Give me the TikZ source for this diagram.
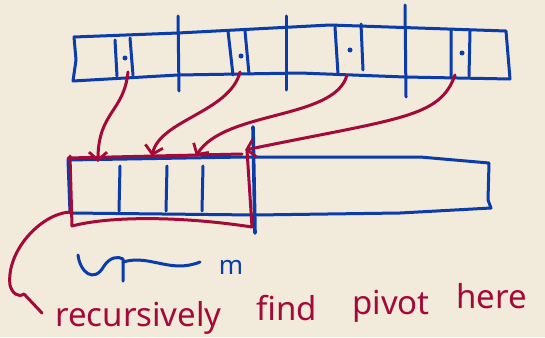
\documentclass[tikz,border=0pt]{standalone}
\usepackage{fontspec}
\setmainfont{Noto Sans}
\usepackage{tikz}
\usetikzlibrary{arrows.meta}
\definecolor{Paper}{HTML}{F2EADB}
\definecolor{Ink}{HTML}{0A3CAA}
\definecolor{Marker}{HTML}{A30A3A}

\begin{document}
\begin{tikzpicture}[
    x=1pt,y=-1pt,
    blueink/.style={draw=Ink,line width=3pt,line cap=round,line join=round},
    redink/.style={draw=Marker,line width=3pt,line cap=round,line join=round},
    pointer/.style={redink,-{Straight Barb[length=8pt,width=18pt,line width=2.8pt]}},
    marked/.style={fill=Ink,circle,inner sep=0pt,minimum size=5pt},
    word/.style={text=Marker,anchor=base west,inner sep=0pt,font=\fontsize{33}{33}\selectfont}
]
\fill[Paper] (0,0) rectangle (545,337);
\useasboundingbox (0,0) rectangle (545,337);

% upper array
\draw[blueink] (74,37) -- (178,33) -- (330,25) -- (506,31) -- (510,79)
  -- (405,77) -- (300,73) -- (178,75) -- (73,81) -- (76,60) -- cycle;
\draw[blueink] (178,16) -- (179,91);
\draw[blueink] (286,16) -- (286,90);
\draw[blueink] (405,5) -- (406,97);
\draw[blueink] (115,40) -- (117,76) (130,38) -- (133,75);
\draw[blueink] (228,31) -- (233,75) (245,31) -- (249,74);
\draw[blueink] (335,27) -- (338,74) (361,24) -- (363,70);
\draw[blueink] (451,30) -- (451,78) (470,31) -- (469,76);
\node[marked] (p1) at (125,58) {};
\node[marked] (p2) at (241,56) {};
\node[marked] (p3) at (350,50) {};
\node[marked] (p4) at (462,53) {};

% lower array
\draw[blueink] (68,160) -- (245,157) -- (420,157) -- (489,163) -- (488,200)
  -- (491,208) -- (400,213) -- (255,215) -- (70,213) -- cycle;
\draw[blueink] (120,166) -- (119,211);
\draw[blueink] (167,166) -- (166,211);
\draw[blueink] (203,166) -- (202,211);
\draw[blueink,line width=3.6pt] (253,127) -- (255,233);
\coordinate (d1) at (98,162);
\coordinate (d2) at (152,156);
\coordinate (d3) at (196,156);
\coordinate (d4) at (245,150);

% medians to the lower array
\draw[pointer] (128,72) .. controls (124,112) and (98,112) .. (d1);
\draw[pointer] (240,72) .. controls (230,112) and (160,120) .. (d2);
\draw[pointer] (347,75) .. controls (335,120) and (225,110) .. (d3);
\draw[pointer] (455,75) .. controls (440,118) and (400,118) .. (d4);
\draw[redink] (68,158) -- (242,154);
\draw[redink] (70,156) -- (72,226) .. controls (110,216) and (180,216) .. (252,227) -- (247,150);

% brace and labels
\draw[redink] (70,212) .. controls (40,214) and (6,252) .. (10,285)
  .. controls (12,293) and (18,298) .. (24,294) -- (42,313);
\draw[blueink] (78,255) .. controls (80,272) and (94,284) .. (104,266)
  .. controls (110,257) and (118,256) .. (123,259) -- (123,281);
\draw[blueink] (123,262) .. controls (150,254) and (170,274) .. (200,262);
\node[text=Ink,font=\fontsize{26}{26}\selectfont,inner sep=0pt] (m) at (231,267) {m};
\node[word] (w1) at (55,326) {recursively};
\node[word] (w2) at (256,320) {find};
\node[word] (w3) at (352,314) {pivot};
\node[word] (w4) at (456,308) {here};
\end{tikzpicture}
\end{document}
